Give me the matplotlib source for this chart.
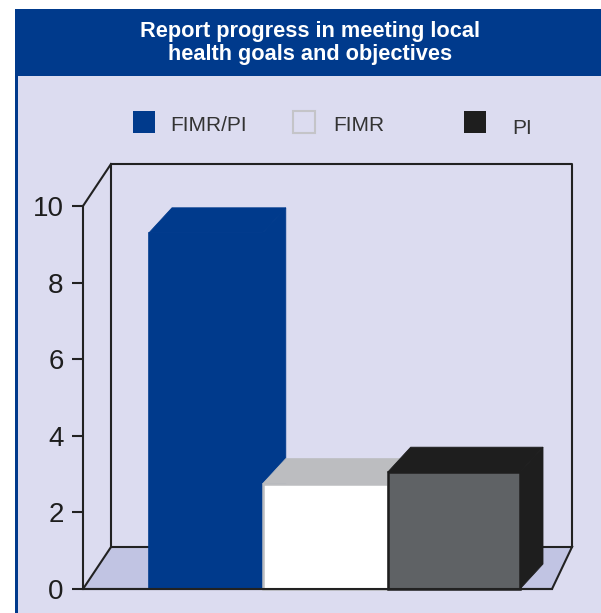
import matplotlib
matplotlib.use("Agg")
import matplotlib.pyplot as plt
from matplotlib.patches import Rectangle, Polygon
import numpy as np

# data
categories = ["FIMR/PI", "FIMR", "PI"]
values = [9.3, 2.75, 3.05]
front_colors = ["#003a8c", "#ffffff", "#5f6265"]
top_colors = ["#003a8c", "#bcbdc0", "#1e1e1e"]
side_colors = ["#003a8c", "#bcbdc0", "#1e1e1e"]
edge_colors = ["#003a8c", "#bcbdc0", "#1e1e1e"]
edge_widths = [1.2, 1.8, 1.8]
# the perspective in the original makes the bars slightly different widths
bar_widths = [0.92, 1.01, 1.07]
yticks = [0, 2, 4, 6, 8, 10]
title = "Report progress in meeting local\nhealth goals and objectives"

W, H = 601, 613
BLUE = "#003a8c"
BG = "#dcdcf0"
FLOOR = "#c1c4e3"
sans = ["Liberation Sans", "DejaVu Sans"]

def fx(px):
	return px / W

def fy(py):
	return 1 - py / H

fig = plt.figure(figsize=(W / 100, H / 100), dpi=100)
fig.patch.set_facecolor("white")

# panel + title band (behind the axes)
fig.patches.append(Rectangle((fx(15), fy(613)), fx(601 - 15), 604 / H,
	transform=fig.transFigure, facecolor=BLUE, edgecolor="none", zorder=-2))
fig.patches.append(Rectangle((fx(18), fy(613)), fx(601 - 18), (613 - 76) / H,
	transform=fig.transFigure, facecolor=BG, edgecolor="none", zorder=-1))
fig.text(fx(310), fy(43), title, color="white", fontsize=15.7, fontweight="bold",
	family=sans, ha="center", va="center", linespacing=1.12)

# legend
legend_items = [
	(133, 170, front_colors[0], "none"),
	(293, 333, "none", "#c4c4c8"),
	(464, 512, "#1e1e1e", "none"),
]
for (bx, tx, fc, ec), name in zip(legend_items, categories):
	fig.patches.append(Rectangle((fx(bx), fy(133)), fx(22), 22 / H,
		transform=fig.transFigure, facecolor=fc, edgecolor=ec, linewidth=1.5))
	ty = 126 if name != "PI" else 128
	fig.text(fx(tx), fy(ty), name, color="#333333", fontsize=15,
		family=sans, ha="left", va="center")

# front plane of the chart
ax_left, ax_right, ax_bottom, ax_top = 83, 552, 589, 206
ax = fig.add_axes([fx(ax_left), fy(ax_bottom), fx(ax_right - ax_left), (ax_bottom - ax_top) / H])
ax.set_facecolor("none")
total_w = sum(bar_widths)
px_per_x = (520 - 149) / total_w
x0 = -(149 - ax_left) / px_per_x
x1 = total_w + (ax_right - 520) / px_per_x
ax.set_xlim(x0, x1)
ax.set_ylim(0, 10)
px_per_y = (ax_bottom - ax_top) / 10

# depth offsets in data units
wall_dx_l = 28 / px_per_x
wall_dx_r = 20 / px_per_x
wall_dy = 42 / px_per_y
bar_dx = 23 / px_per_x
bar_dy = 25 / px_per_y

# floor and back wall
ax.add_patch(Polygon([(x0, 0), (x0 + wall_dx_l, wall_dy), (x1 + wall_dx_r, wall_dy), (x1, 0)],
	closed=True, facecolor=FLOOR, edgecolor="#222222", linewidth=1.5, clip_on=False, zorder=1))
ax.plot([x0 + wall_dx_l, x0 + wall_dx_l, x1 + wall_dx_r, x1 + wall_dx_r],
	[wall_dy, 10 + wall_dy, 10 + wall_dy, wall_dy],
	color="#222222", linewidth=1.5, clip_on=False, zorder=1)
ax.plot([x0, x0 + wall_dx_l], [10, 10 + wall_dy], color="#222222", linewidth=1.5,
	clip_on=False, zorder=1)

# bars, left to right so each front covers the previous side
lefts = np.concatenate([[0], np.cumsum(bar_widths)[:-1]])
for i, v in enumerate(values):
	l = lefts[i]
	r = l + bar_widths[i]
	z = 2 + i
	ax.add_patch(Polygon([(r, 0), (r + bar_dx, bar_dy), (r + bar_dx, v + bar_dy), (r, v)],
		closed=True, facecolor=side_colors[i], edgecolor=side_colors[i], linewidth=0.6,
		clip_on=False, zorder=z))
	ax.add_patch(Polygon([(l, v), (l + bar_dx, v + bar_dy), (r + bar_dx, v + bar_dy), (r, v)],
		closed=True, facecolor=top_colors[i], edgecolor=top_colors[i], linewidth=0.6,
		clip_on=False, zorder=z))
	ax.add_patch(Rectangle((l, 0), bar_widths[i], v, facecolor=front_colors[i],
		edgecolor=edge_colors[i], linewidth=edge_widths[i], clip_on=False, zorder=z))

# axes styling
for s in ["top", "right"]:
	ax.spines[s].set_visible(False)
ax.spines["left"].set_color("#222222")
ax.spines["bottom"].set_color("#222222")
ax.spines["left"].set_linewidth(1.5)
ax.spines["bottom"].set_linewidth(1.5)
ax.spines["left"].set_zorder(10)
ax.spines["bottom"].set_zorder(10)
ax.set_xticks([])
ax.set_yticks(yticks)
ax.set_yticklabels([str(t) for t in yticks], fontsize=20, family=sans, color="#1e1e1e")
ax.tick_params(axis="y", direction="out", length=8, width=1.5, pad=6, color="#222222")

fig.savefig("out.png", dpi=100)
